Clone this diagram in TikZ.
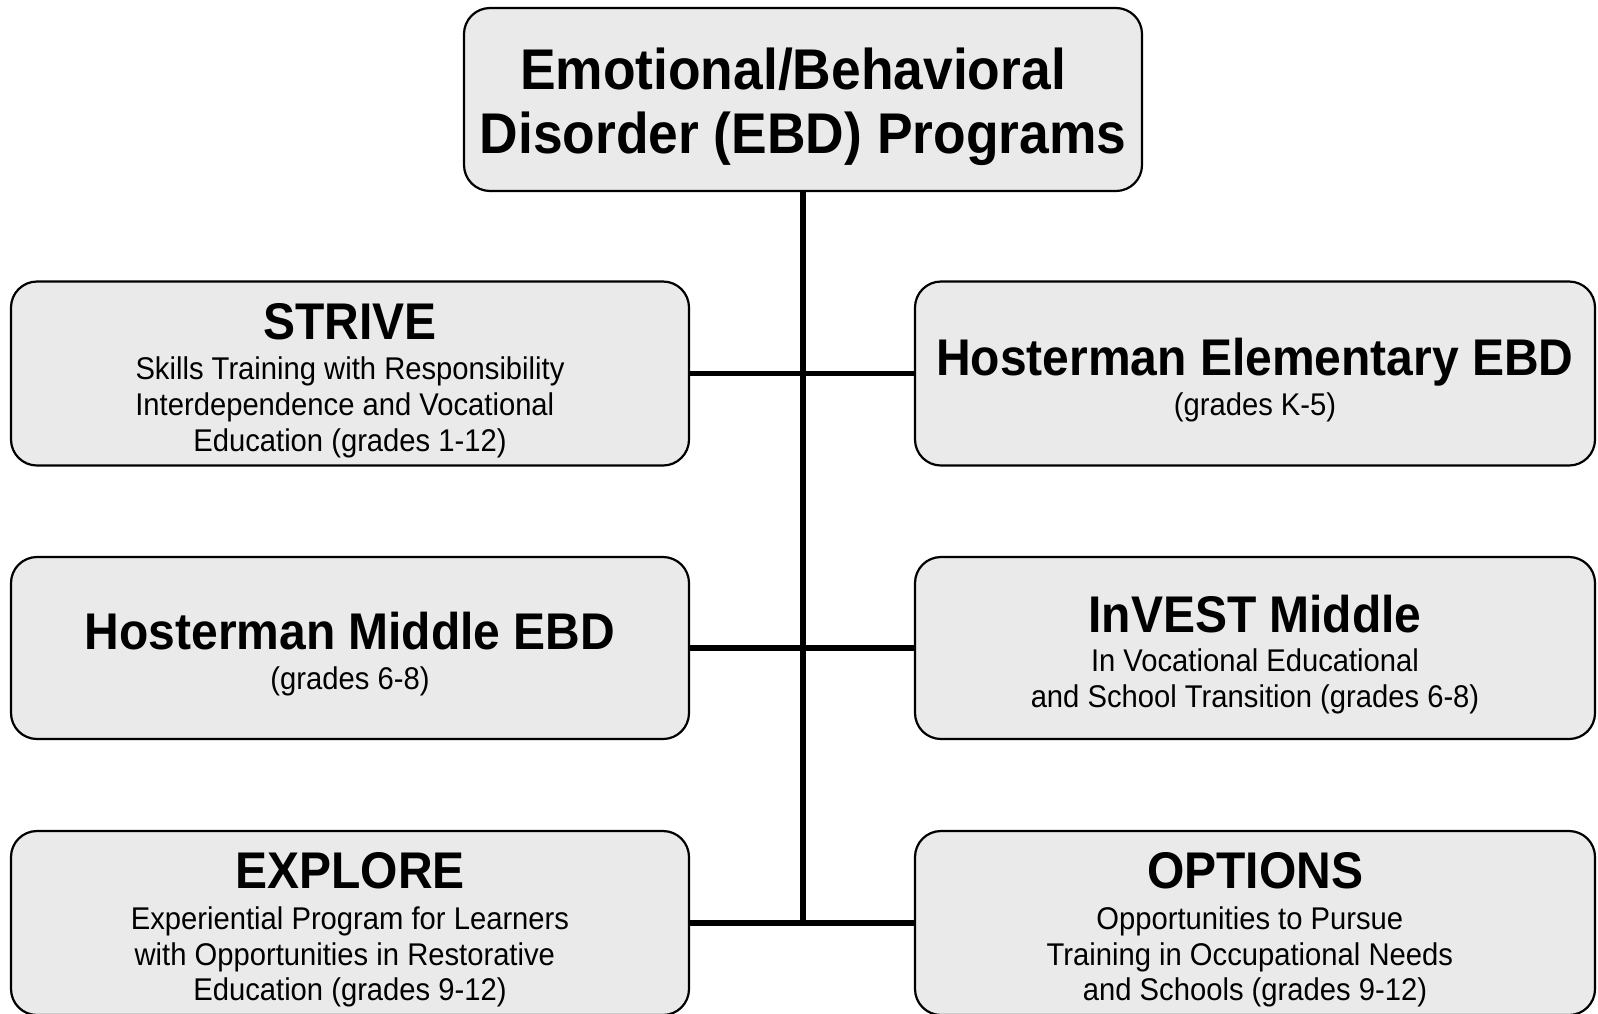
\documentclass[tikz,border=0pt]{standalone}
\usepackage{fontspec}
\setmainfont{Liberation Sans}[FakeStretch=0.93]
\usepackage{tikz}

\definecolor{boxgray}{RGB}{234,234,234}
\newcommand{\headfont}{\bfseries\fontsize{25.8}{26}\selectfont}
\newcommand{\subfont}{\fontsize{15.7}{17.8}\selectfont}
% taller first line, so the text sits a little low in its box
\newcommand{\headstrut}[1][25pt]{\rule{0pt}{#1}}
\newcommand{\tail}{\kern0.33em}

\begin{document}
\begin{tikzpicture}[x=0.5pt, y=-0.5pt,
    prog/.style={draw, line width=1.1pt, fill=boxgray, rounded corners=13pt,
        inner sep=0pt, minimum width=339pt, minimum height=92pt,
        align=center, font=\subfont},
    link/.style={line width=2.8pt}]
    \clip (0, 0) rectangle (1598, 1013);
    \node[prog, minimum height=91.5pt, font=\bfseries\fontsize{28.7}{32}\selectfont] at (803, 99.5) (EBD) {\headstrut[28pt]Emotional/Behavioral\kern0.35em\\Disorder (EBD) Programs};
    \node[prog] at (350, 373.5) (STRIVE) {\headstrut{\headfont STRIVE}\\[2.5pt]Skills Training with Responsibility\\Interdependence and Vocational\tail\\Education (grades 1-12)};
    \node[prog, minimum width=340pt] at (1255, 373.5) (ELEM) {\headstrut{\headfont Hosterman Elementary EBD}\\[2pt](grades K-5)};
    \node[prog, minimum height=91pt] at (350, 648) (MID) {\headstrut{\headfont Hosterman Middle EBD}\\[2pt](grades 6-8)};
    \node[prog, minimum width=340pt, minimum height=91pt] at (1255, 648) (INVEST) {\headstrut{\headfont InVEST Middle}\\[2pt]In Vocational Educational\\and School Transition (grades 6-8)};
    \node[prog] at (350, 923) (EXPLORE) {\headstrut{\headfont EXPLORE}\\[2.5pt]Experiential Program for Learners\\with Opportunities in Restorative\tail\\Education (grades 9-12)};
    \node[prog, minimum width=340pt] at (1255, 923) (OPTIONS) {\headstrut{\headfont OPTIONS}\\[2.5pt]Opportunities to Pursue\tail\\Training in Occupational Needs\tail\\and Schools (grades 9-12)};
    \coordinate (BOT) at (EBD.south |- EXPLORE.east);
    \draw[link] (EBD.south) -- (BOT);
    \draw[link] (STRIVE.east) -- (ELEM.west);
    \draw[link] (MID.east) -- (INVEST.west);
    \draw[link] (EXPLORE.east) -- (OPTIONS.west);
\end{tikzpicture}
\end{document}
